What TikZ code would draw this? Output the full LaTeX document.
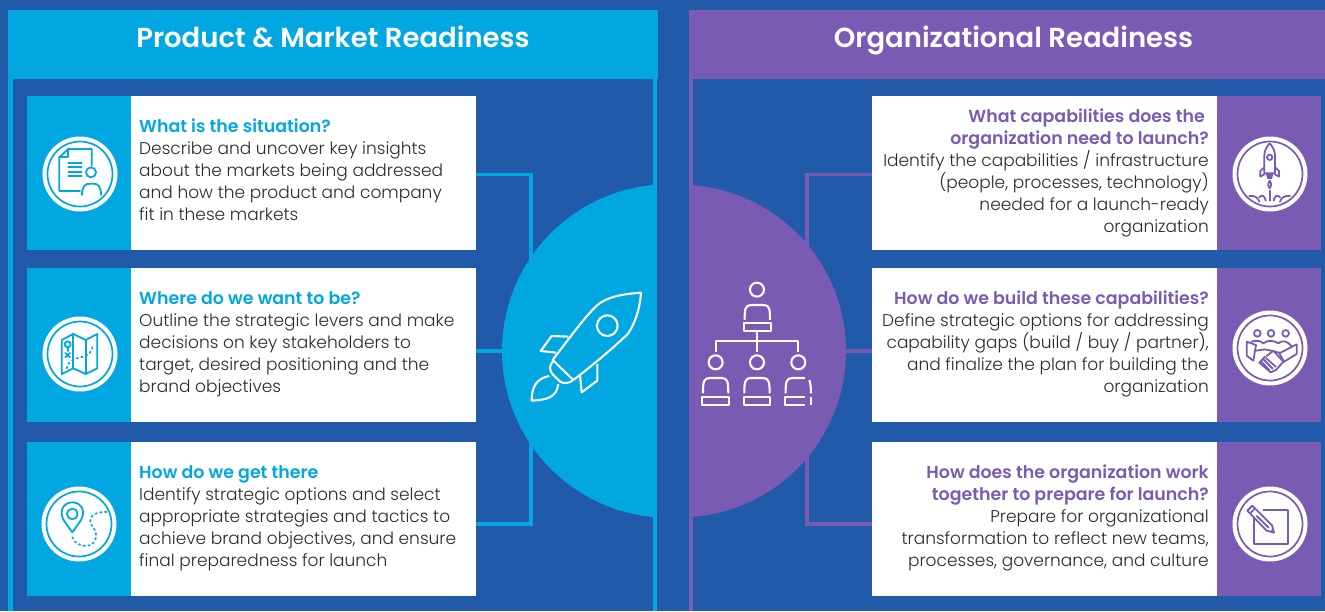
\documentclass[tikz,border=0pt]{standalone}
\usepackage{fontspec}
\setmainfont{Poppins Light}[BoldFont={Poppins SemiBold}]
\definecolor{bgblue}{HTML}{215AA8}
\definecolor{sky}{HTML}{00A7E1}
\definecolor{plum}{HTML}{7A5BB3}
\definecolor{ink}{HTML}{2B2B2B}
\tikzset{
 panel/.style={fill=#1,draw=none,inner sep=0pt,outer sep=0pt,anchor=north west},
 body/.style={font=\fontsize{17}{22}\selectfont,text=ink,inner sep=0pt},
 bodyl/.style={body,anchor=north west,align=left},
 bodyr/.style={body,anchor=north east,align=right},
 headtxt/.style={font=\fontsize{27.5}{30}\selectfont\bfseries,text=white,inner sep=0pt,anchor=base},
 conn/.style={draw=#1,line width=3.6pt},
 disc/.style={circle,fill=white,draw=none,minimum size=75pt,inner sep=0pt},
 ring/.style={line width=1.7pt,draw=#1},
 glyph/.style={line width=1.8pt,draw=#1,line join=round,line cap=round,fill=none},
 bigglyph/.style={line width=2.1pt,draw=white,line join=round,fill=none},
 zoomA/.style={shift={(0,0)},x=.3333pt,y=-.3333pt},
 zoomB/.style={shift={(20,300)},x=.3333pt,y=-.3333pt},
 zoomC/.style={shift={(470,160)},x=.3333pt,y=-.3333pt},
 zoomD/.style={shift={(1210,90)},x=.3333pt,y=-.3333pt},
 zoomE/.style={shift={(1210,290)},x=.3333pt,y=-.3333pt},
}
\newcommand{\bt}[2]{{\fontsize{17.4}{22}\selectfont\textbf{\color{#1}#2}}}
\begin{document}
\begin{tikzpicture}[x=1pt,y=-1pt]
\fill[bgblue] (0,0) rectangle (1325,611);
\useasboundingbox (0,0) rectangle (1325,611);
% frame strips and headers
\fill[sky] (8,79) rectangle (13,611);
\fill[sky] (653,79) rectangle (657,611);
\fill[plum] (689,79) rectangle (693,611);
\node[panel=sky,minimum width=650pt,minimum height=69pt] (headL) at (8,10) {};
\node[panel=plum,minimum width=636pt,minimum height=69pt] (headR) at (689,10) {};
\node[headtxt] (titleL) at (333,47) {Product \& Market Readiness};
\node[headtxt] (titleR) at (1013.5,47) {Organizational Readiness};
% hub centres and connectors
\coordinate (hubL) at (668.7,351);
\coordinate (hubR) at (679.7,351);
\coordinate (hubLin) at (560,351);
\coordinate (hubRin) at (780,351);
\coordinate (jl) at (531,174.5);
\coordinate (jlb) at (531,524);
\coordinate (jr) at (807,174.5);
\coordinate (jrb) at (807,524);
% cards
\foreach \n/\y in {1/96,2/268,3/442}{
  \node[panel=sky,minimum width=104pt,minimum height=154pt] (il\n) at (27,\y) {};
  \node[panel=white,minimum width=345pt,minimum height=154pt] (cl\n) at (131,\y) {};
  \node[panel=white,minimum width=345pt,minimum height=154pt] (cr\n) at (872,\y) {};
  \node[panel=plum,minimum width=104pt,minimum height=154pt] (ir\n) at (1217,\y) {};
}
\draw[conn=sky] (cl1.east |- jl) -- (jl) -- (jl |- hubL);
\draw[conn=sky] (cl2.east |- hubLin) -- (hubLin);
\draw[conn=sky] (cl3.east |- jlb) -- (jlb) -- (jl |- hubL);
\draw[conn=plum] (cr1.west |- jr) -- (jr) -- (jr |- hubR);
\draw[conn=plum] (cr2.west |- hubRin) -- (hubRin);
\draw[conn=plum] (cr3.west |- jrb) -- (jrb) -- (jr |- hubR);
% hubs
\begin{scope}
\clip (400,0) rectangle (657,611);
\fill[sky] (hubL) circle (166.7);
\end{scope}
\begin{scope}
\clip (689,0) rectangle (1000,611);
\fill[plum] (hubR) circle (166.3);
\end{scope}
% texts left
\node[bodyl] (tl1) at (139,119) {\bt{sky}{What is the situation?}\\Describe and uncover key insights\\about the markets being addressed\\and how the product and company\\fit in these markets};
\node[bodyl] (tl2) at (139,291) {\bt{sky}{Where do we want to be?}\\Outline the strategic levers and make\\decisions on key stakeholders to\\target, desired positioning and the\\brand objectives};
\node[bodyl] (tl3) at (139,465) {\bt{sky}{How do we get there}\\Identify strategic options and select\\appropriate strategies and tactics to\\achieve brand objectives, and ensure\\final preparedness for launch};
% texts right
\node[bodyr] (tr1) at (1209,109) {\bt{plum}{What capabilities does the\hspace*{4pt}}\\\bt{plum}{organization need to launch?}\\Identify the capabilities / infrastructure\\(people, processes, technology)\\needed for a launch-ready\\organization};
\node[bodyr] (tr2) at (1209,291) {\bt{plum}{How do we build these capabilities?}\\Define strategic options for addressing\\capability gaps (build / buy / partner),\\and finalize the plan for building the\\organization};
\node[bodyr] (tr3) at (1209,465) {\bt{plum}{How does the organization work}\\\bt{plum}{together to prepare for launch?}\\Prepare for organizational\\transformation to reflect new teams,\\processes, governance, and culture};
% icon discs
\foreach \nm/\cx/\cy/\col in {a/80/174/sky,b/80/354/sky,c/79/524/sky,d/1270/174/plum,e/1270/348/plum,f/1270/524/plum}{
  \node[disc] (disc\nm) at (\cx,\cy) {};
  \draw[ring=\col] (\cx,\cy) circle (32.5);
}
% icon 1: document + person
\begin{scope}[zoomA]
\draw[glyph=sky] (275,497) -- (275,447) -- (205,447) -- (178,472) -- (178,573) -- (240,573);
\draw[glyph=sky] (205,447) -- (205,472) -- (178,472);
\foreach \yy in {488,502,515,527} \draw[glyph=sky] (205,\yy) -- (245,\yy);
\draw[glyph=sky] (273,517) circle (15);
\draw[glyph=sky] (246,585) .. controls (246,560) and (255,551) .. (270,551) -- (280,551) .. controls (295,551) and (303,560) .. (303,585);
\end{scope}
% icon 2: map
\begin{scope}[zoomB]
\draw[glyph=sky] (125,120) -- (160,102) -- (197,120) -- (232,102) -- (232,205) -- (197,222) -- (160,205) -- (125,222) -- cycle;
\draw[glyph=sky] (160,102) -- (160,205) (197,120) -- (197,222);
\draw[glyph=sky] (143,133) circle (9);
\draw[glyph=sky] (143,142) -- (143,153);
\draw[glyph=sky] (136,159) -- (150,172) (150,159) -- (136,172);
\draw[glyph=sky,dash pattern=on 1.5pt off 3.4pt] (140,205) .. controls (145,180) and (165,178) .. (180,172) .. controls (205,168) and (215,160) .. (218,138);
\end{scope}
% icon 3: pin + route
\begin{scope}[zoomB]
\draw[glyph=sky] (157,697) -- (132,662) .. controls (115,635) and (130,607) .. (157,607) .. controls (184,607) and (199,635) .. (182,662) -- cycle;
\draw[glyph=sky] (157,642) circle (16);
\draw[glyph=sky,dash pattern=on 1.5pt off 3.4pt] (157,712) .. controls (165,735) and (195,742) .. (212,735) .. controls (235,722) and (232,695) .. (218,680) .. controls (200,660) and (215,632) .. (265,636);
\end{scope}
% icon 4: rocket launch
\begin{scope}[zoomD]
\draw[glyph=plum] (163,250) -- (163,195) .. controls (163,180) and (172,168) .. (179,160) .. controls (186,168) and (195,180) .. (195,195) -- (195,250) -- cycle;
\draw[glyph=plum] (179,202) circle (8);
\draw[glyph=plum] (163,232) -- (151,243) -- (151,260) -- (163,253);
\draw[glyph=plum] (195,232) -- (207,243) -- (207,260) -- (195,253);
\fill[plum] (168,252) -- (190,252) -- (186,267) -- (172,267) -- cycle;
\draw[glyph=plum] (179,272) .. controls (172,282) and (174,292) .. (179,295) .. controls (184,292) and (186,282) .. (179,272);
\draw[glyph=plum] (179,302) -- (179,332);
\draw[glyph=plum] (118,318) .. controls (135,315) and (145,325) .. (148,335);
\draw[glyph=plum] (148,322) .. controls (155,312) and (165,318) .. (167,332);
\draw[glyph=plum] (240,318) .. controls (223,315) and (213,325) .. (210,335);
\draw[glyph=plum] (210,322) .. controls (203,312) and (193,318) .. (191,332);
\end{scope}
% icon 5: team handshake
\begin{scope}[zoomE]
\foreach \xx in {142,183,227} \draw[glyph=plum] (\xx,130) circle (10);
\draw[glyph=plum] (110,155) -- (138,165) -- (130,212) -- (110,197) -- cycle;
\draw[glyph=plum] (260,163) -- (260,192) -- (222,215) -- (208,190) -- cycle;
\draw[glyph=plum] (125,155) .. controls (140,150) and (150,152) .. (160,160) .. controls (172,150) and (190,150) .. (205,160) .. controls (215,150) and (235,152) .. (245,170);
\draw[glyph=plum] (138,182) -- (165,178) -- (208,188);
\draw[glyph=plum] (170,198) -- (190,182) -- (220,215) -- (198,240) -- (182,247) -- (148,218) -- (165,200);
\draw[glyph=plum] (160,208) -- (188,236) (168,204) -- (197,230) (153,214) -- (178,240);
\end{scope}
% icon 6: pencil + square
\begin{scope}[zoomE]
\draw[glyph=plum] (160,660) -- (235,660) -- (235,763) -- (133,763) -- (133,685);
\draw[glyph=plum] (112,662) -- (127,647) -- (186,706) -- (192,728) -- (170,722) -- cycle;
\draw[glyph=plum] (120,670) -- (135,655);
\fill[plum] (181,724) -- (192,728) -- (188,716) -- cycle;
\draw[glyph=plum] (140,678) -- (175,712);
\end{scope}
% big rocket
\begin{scope}[zoomC]
\draw[bigglyph] (513,398) .. controls (460,402) and (410,410) .. (380,437) .. controls (345,470) and (290,545) .. (248,600) -- (310,660) .. controls (350,630) and (430,565) .. (475,520) .. controls (500,480) and (510,440) .. (513,398) -- cycle;
\draw[bigglyph] (412,497) circle (31);
\draw[bigglyph] (295,530) -- (245,528) -- (212,573) -- (258,578);
\draw[bigglyph] (382,612) -- (382,662) -- (335,697) -- (330,645);
\draw[bigglyph] (248,605) .. controls (235,622) and (240,635) .. (250,645) -- (268,663) .. controls (280,673) and (295,670) .. (308,662);
\draw[bigglyph] (238,648) .. controls (200,655) and (185,680) .. (185,722) .. controls (225,720) and (260,715) .. (265,672);
\end{scope}
% org chart
\begin{scope}[zoomC]
\draw[bigglyph] (861,389) circle (21);
\draw[bigglyph] (824,480) .. controls (824,445) and (826,435) .. (845,435) -- (880,435) .. controls (898,435) and (900,445) .. (900,480);
\draw[bigglyph] (822,490) rectangle (902,514);
\draw[bigglyph] (861,514) -- (861,575);
\draw[bigglyph] (737,575) -- (737,543) -- (985,543) -- (985,575);
\foreach \xx in {737,861,985} \draw[bigglyph] (\xx,607) circle (21);
\foreach \xx in {737,861}{
  \draw[bigglyph] (\xx-38,700) .. controls (\xx-38,665) and (\xx-36,654) .. (\xx-17,654) -- (\xx+17,654) .. controls (\xx+36,654) and (\xx+38,665) .. (\xx+38,700);
  \draw[bigglyph] (\xx-40,712) rectangle (\xx+40,735);
}
\draw[bigglyph] (947,700) .. controls (947,665) and (949,654) .. (968,654) -- (1005,654);
\draw[bigglyph] (1018,660) .. controls (1022,670) and (1023,685) .. (1023,700);
\draw[bigglyph] (1005,712) -- (945,712) -- (945,735) -- (1005,735);
\draw[bigglyph] (1022,712) -- (1022,735);
\end{scope}
\end{tikzpicture}
\end{document}
